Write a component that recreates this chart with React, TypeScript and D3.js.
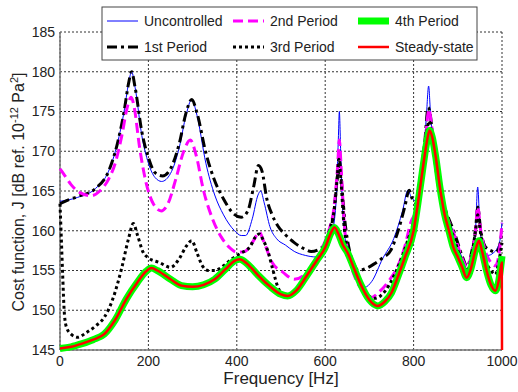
import * as d3 from "d3";
import React from "react";

// frequency [Hz], cost J [dB]
const uncontrolled: [number, number][] = [
  [0, 163.7], [40, 164.2], [80, 165.3], [110, 167.5], [130, 171], [145, 175], [155, 178.5], [162, 180],
  [170, 178], [185, 172], [200, 168.5], [215, 166.7], [230, 166.2], [250, 167.2], [270, 170.5], [285, 174.5],
  [298, 176.5], [310, 174.5], [330, 168.5], [350, 164.5], [370, 162], [395, 160], [410, 159.4], [420, 159.4],
  [435, 161.5], [448, 164.5], [454, 165], [462, 163.5], [475, 160.5], [490, 159], [510, 158.2], [530, 157.4],
  [555, 156.9], [580, 156.7], [600, 157.4], [615, 159.5], [625, 164], [630, 172], [632, 175], [635, 170],
  [640, 162], [650, 157.5], [665, 154.5], [680, 153.2], [690, 152.9], [705, 153.6], [730, 156.5], [755, 159],
  [775, 162.5], [787, 165.1], [795, 164.2], [803, 163.8], [812, 164.8], [822, 169], [829, 174.5], [834, 178.2],
  [838, 175], [845, 170], [855, 165.5], [873, 162.2], [892, 159.6], [910, 156.5], [921, 155], [932, 157],
  [940, 160], [945, 165.5], [950, 160.5], [958, 157.5], [968, 156.9], [980, 157.2], [990, 157.9], [996, 159],
  [1000, 161],
];

const period1: [number, number][] = [
  [0, 163.4], [15, 163.8], [40, 164.3], [80, 165.3], [110, 167.5], [130, 171], [145, 175], [155, 178.5],
  [162, 180], [170, 178], [185, 172.5], [200, 169.2], [215, 167.3], [232, 166.9], [250, 167.8], [270, 171],
  [285, 174.8], [298, 176.5], [310, 174.8], [330, 169.8], [350, 166.3], [370, 164], [390, 162.3], [410, 161.7],
  [425, 162.5], [438, 165.5], [449, 168.2], [457, 167.5], [468, 164], [480, 162], [493, 160.6], [510, 159.5],
  [530, 158.5], [550, 157.8], [568, 157.4], [590, 157.8], [608, 159.5], [620, 162.5], [628, 167], [632, 169],
  [637, 166], [645, 161], [655, 157.5], [665, 155.8], [675, 155], [690, 155.2], [710, 155.8], [730, 156.6],
  [748, 157.5], [765, 160], [780, 163], [790, 165.1], [797, 164], [805, 163.5], [815, 166.5], [825, 171],
  [833, 175.5], [838, 174.5], [845, 170.5], [855, 166], [873, 162.5], [892, 159.8], [910, 156.8], [921, 155.5],
  [932, 157.5], [940, 160], [945, 163], [952, 160], [962, 158], [975, 157.5], [985, 157.3], [993, 157.8],
  [1000, 160],
];

const period2: [number, number][] = [
  [0, 167.8], [10, 167], [25, 165.8], [45, 164.8], [71, 164.4], [90, 165], [110, 166.5], [125, 168.5],
  [140, 172], [152, 175.5], [161, 176.8], [168, 175.5], [180, 170.5], [195, 166], [212, 163.3], [229, 162.5],
  [245, 163.5], [262, 166.5], [280, 170], [295, 171.4], [308, 169.5], [325, 165], [345, 161.5], [365, 159.2],
  [385, 157.8], [400, 157.3], [418, 157.4], [435, 158.5], [451, 159.8], [462, 158.5], [480, 156], [504, 154.8],
  [530, 153.9], [550, 154.3], [568, 155.4], [590, 157.5], [608, 160], [620, 163], [628, 168], [632, 171.4],
  [636, 168], [643, 161], [655, 156.5], [670, 153.8], [690, 152.2], [704, 151.6], [720, 152.2], [744, 153.7],
  [764, 155.5], [780, 158], [794, 161.1], [805, 162.5], [815, 165.5], [825, 170], [832, 174.5], [835, 175.3],
  [840, 173.5], [848, 170], [858, 165.5], [873, 162.2], [892, 159.5], [910, 156.5], [921, 155.4], [932, 157.3],
  [940, 160], [945, 163], [952, 160], [962, 157.5], [975, 156], [985, 155.6], [993, 157], [1000, 161],
];

const period3: [number, number][] = [
  [0, 163.4], [3, 159], [6, 154.5], [10, 149.5], [15, 147.8], [25, 147], [40, 146.6], [60, 147.2],
  [80, 148], [100, 149.1], [120, 151.5], [140, 155.4], [155, 159], [166, 160.9], [175, 159.5], [188, 157.3],
  [200, 156.6], [225, 156], [250, 155.4], [270, 156.5], [285, 158], [298, 158.75], [310, 157.2], [322, 155.6],
  [335, 155], [350, 155], [370, 155.6], [390, 156.5], [410, 157.2], [430, 158], [442, 159.2], [451, 159.6],
  [460, 158.8], [470, 157.5], [482, 155], [493, 152.9], [505, 152], [520, 151.9], [540, 152.7], [560, 154.5],
  [580, 156.3], [600, 158.5], [612, 160.5], [620, 162.5], [627, 166.5], [631, 169], [636, 166], [642, 161],
  [650, 157.8], [665, 155], [680, 153.3], [695, 152], [711, 151.5], [725, 151.8], [745, 153.2], [765, 155.5],
  [785, 158.5], [800, 161.2], [812, 164.5], [822, 168.5], [830, 172.5], [835, 173.8], [840, 172.5], [848, 169.5],
  [858, 166], [873, 162.2], [892, 159], [910, 156], [921, 155], [932, 157], [940, 160], [945, 162],
  [952, 159.5], [962, 156.5], [975, 155], [985, 154.5], [993, 156.2], [1000, 158.5],
];

const period4: [number, number][] = [
  [0, 145.2], [25, 145.4], [50, 145.8], [75, 146.3], [100, 147], [125, 148.8], [150, 151.4], [175, 153.5],
  [195, 154.9], [207, 155.3], [220, 155], [250, 153.9], [275, 153.1], [300, 152.95], [325, 153.2], [350, 153.9],
  [375, 155.2], [395, 156.2], [407, 156.4], [420, 156], [435, 155.2], [450, 154.3], [475, 153], [500, 152],
  [515, 151.8], [535, 152.5], [560, 154.5], [580, 156.2], [600, 157.9], [612, 159.6], [621, 160.4], [630, 159.6],
  [640, 158.2], [650, 157.3], [665, 155.3], [680, 153.3], [700, 151.3], [719, 150.55], [735, 151.1], [750, 152.2],
  [765, 154.3], [780, 156.6], [800, 160], [812, 164.3], [822, 168.3], [830, 171.2], [836, 172.6], [842, 171.8],
  [850, 169.3], [860, 165.3], [870, 162.1], [880, 160], [890, 157.9], [900, 156.7], [910, 155.4], [920, 154.1],
  [930, 155.3], [940, 157.6], [948, 158.75], [955, 157.4], [965, 155], [975, 153.2], [985, 152.45], [993, 153.8],
  [1000, 156.8],
];

const steadyState: [number, number][] = [
  [0, 145.2], [25, 145.4], [50, 145.8], [75, 146.3], [100, 147], [125, 148.8], [150, 151.4], [175, 153.5],
  [195, 154.9], [207, 155.3], [220, 155], [250, 153.9], [275, 153.1], [300, 152.95], [325, 153.2], [350, 153.9],
  [375, 155.2], [395, 156.2], [407, 156.4], [420, 156], [435, 155.2], [450, 154.3], [475, 153], [500, 152],
  [515, 151.8], [535, 152.5], [560, 154.5], [580, 156.2], [600, 157.9], [612, 159.6], [621, 160.4], [630, 159.6],
  [640, 158.2], [650, 157.3], [665, 155.3], [680, 153.3], [700, 151.3], [719, 150.55], [735, 151.1], [750, 152.2],
  [765, 154.3], [780, 156.6], [800, 160], [812, 164.3], [822, 168.3], [830, 171.2], [836, 172.6], [842, 171.8],
  [850, 169.3], [860, 165.3], [870, 162.1], [880, 160], [890, 157.9], [900, 156.7], [910, 155.4], [920, 154.1],
  [930, 155.3], [940, 157.6], [948, 158.75], [955, 157.4], [965, 155], [975, 153.2], [985, 152.45], [993, 153.8],
  [999.5, 156], [1000, 145],
];

const xTicks = [0, 200, 400, 600, 800, 1000];
const yTicks = [145, 150, 155, 160, 165, 170, 175, 180, 185];

const series = [
  { name: "Uncontrolled", data: uncontrolled, color: "#0000ff", width: 1, dash: "" },
  { name: "1st Period", data: period1, color: "#000000", width: 3, dash: "10,4,3,4" },
  { name: "2nd Period", data: period2, color: "#ff00ff", width: 3, dash: "10,5" },
  { name: "3rd Period", data: period3, color: "#000000", width: 3, dash: "3,3" },
  { name: "4th Period", data: period4, color: "#00ff00", width: 7, dash: "" },
  { name: "Steady-state", data: steadyState, color: "#ff0000", width: 2.5, dash: "" },
];

const W = 518;
const H = 392;
const margin = { left: 60, right: 16, top: 32, bottom: 42 };
const font = "'Liberation Sans', Arial, sans-serif";

export default function App() {
  const x = d3.scaleLinear().domain([0, 1000]).range([margin.left, W - margin.right]);
  const y = d3.scaleLinear().domain([145, 185]).range([H - margin.bottom, margin.top]);
  const line = d3
    .line<[number, number]>()
    .x((d) => x(d[0]))
    .y((d) => y(d[1]))
    .curve(d3.curveMonotoneX);

  const [x0, x1] = x.range();
  const [y0, y1] = y.range();

  // legend: column-major, 3 columns x 2 rows
  const legendX = [107, 233, 358];
  const legendY = [21, 47];

  return (
    <svg
      width={W}
      height={H}
      style={{ position: "absolute", left: 0, top: 0, background: "#fff" }}
      fontFamily={font}
    >
      <rect x={0} y={0} width={W} height={H} fill="#fff" />
      {/* grid */}
      {xTicks.map((t) => (
        <line key={"gx" + t} x1={x(t)} x2={x(t)} y1={y0} y2={y1} stroke="#333" strokeWidth={1} strokeDasharray="2,2" />
      ))}
      {yTicks.map((t) => (
        <line key={"gy" + t} x1={x0} x2={x1} y1={y(t)} y2={y(t)} stroke="#333" strokeWidth={1} strokeDasharray="2,2" />
      ))}
      {/* axes */}
      <line x1={x0} x2={x1} y1={y0} y2={y0} stroke="#777" strokeWidth={1.5} />
      <line x1={x0} x2={x0} y1={y0} y2={y1} stroke="#777" strokeWidth={1.5} />

      {series.map((s) => (
        <path
          key={s.name}
          d={line(s.data) || ""}
          fill="none"
          stroke={s.color}
          strokeWidth={s.width}
          strokeDasharray={s.dash || undefined}
          strokeLinejoin="round"
        />
      ))}

      {/* tick labels */}
      {yTicks.map((t) => (
        <text key={"ty" + t} x={x0 - 5} y={y(t)} dy="0.35em" textAnchor="end" fontSize={14} fill="#222">
          {t}
        </text>
      ))}
      {xTicks.map((t) => (
        <text key={"tx" + t} x={x(t)} y={y0 + 16} textAnchor="middle" fontSize={14} fill="#222">
          {t}
        </text>
      ))}
      <text x={(x0 + x1) / 2} y={384} textAnchor="middle" fontSize={17} fill="#222">
        Frequency [Hz]
      </text>
      <text transform={`translate(24, ${(y0 + y1) / 2 + 1}) rotate(-90)`} textAnchor="middle" fontSize={16} fill="#222">
        Cost function, J [dB ref. 10
        <tspan dy={-6} fontSize={11}>-12</tspan>
        <tspan dy={6}> Pa</tspan>
        <tspan dy={-6} fontSize={11}>2</tspan>
        <tspan dy={6}>]</tspan>
      </text>

      {/* legend */}
      <rect x={102} y={7} width={375} height={53} fill="#fff" stroke="#444" strokeWidth={1} />
      {series.map((s, i) => {
        const col = Math.floor(i / 2);
        const row = i % 2;
        const lx = legendX[col];
        const ly = legendY[row];
        return (
          <g key={"lg" + s.name}>
            <line
              x1={lx}
              x2={lx + 31}
              y1={ly}
              y2={ly}
              stroke={s.color}
              strokeWidth={s.width}
              strokeDasharray={s.dash || undefined}
            />
            <text x={lx + 37} y={ly} dy="0.35em" fontSize={14} fill="#222">
              {s.name}
            </text>
          </g>
        );
      })}
    </svg>
  );
}
